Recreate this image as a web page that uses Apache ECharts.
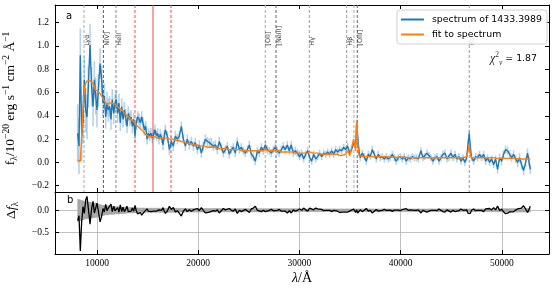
<!DOCTYPE html>
<html><head><meta charset="utf-8">
<script src="https://cdn.jsdelivr.net/npm/echarts@6/dist/echarts.min.js"></script>
<style>html,body{margin:0;padding:0;background:#fff}#c{width:558px;height:291px}</style>
</head><body><div id="c"></div>
<script>
// ---- data ----
const wavelength = [
  8090, 8220, 8350, 8490, 8620, 8750, 8880, 9010, 9140, 9310, 9470, 9610, 9740, 9870, 10000, 10130, 10300, 10460, 10590, 10720,
  10860, 10990, 11120, 11250, 11380, 11510, 11650, 11780, 11910, 12040, 12170, 12300, 12440, 12570, 12700, 12830, 12960, 13090, 13230, 13360,
  13490, 13620, 13750, 13880, 14020, 14150, 14280, 14410, 14540, 14680, 14810, 14940, 15070, 15200, 15330, 15460, 15600, 15730, 15860, 15990,
  16120, 16250, 16390, 16520, 16650,
  16750, 16950, 17150, 17340, 17540, 17740, 17940, 18130, 18330, 18530, 18730, 18920, 19120, 19320, 19520, 19710, 19910, 20110, 20310, 20500,
  20700, 20900, 21100, 21290, 21490, 21690, 21890, 22080, 22280, 22480, 22680, 22870, 23070, 23270, 23470, 23660, 23860, 24060, 24260, 24450,
  24650, 24850, 25050, 25240, 25440, 25640, 25840, 26030, 26230, 26430, 26630, 26820, 27020, 27220, 27420, 27610, 27810, 28010, 28210, 28400,
  28600, 28800, 29000, 29190, 29390, 29590, 29790, 29980,
  30020, 30220, 30410, 30610, 30810, 31010, 31200, 31400, 31600, 31800, 31990, 32190, 32390, 32590, 32780, 32980, 33180, 33380, 33570, 33770,
  33970, 34170, 34360, 34560, 34760, 34960, 35150, 35350, 35550, 35650, 35750, 35880, 36010, 36210, 36400, 36600, 36800, 37000, 37190, 37390,
  37590, 37790, 37980, 38180, 38380, 38580, 38770, 38970, 39170, 39370, 39560, 39760, 39960, 40160, 40350, 40550, 40750, 40950, 41140, 41340,
  41540, 41740,
  42000, 42200, 42390, 42590, 42790, 42990, 43180, 43380, 43580, 43780, 43970, 44170, 44370, 44570, 44760, 44960, 45160, 45360, 45550, 45750,
  45950, 46150, 46340, 46510, 46670, 46770, 46870, 47000, 47200, 47400, 47600, 47790, 47990, 48190, 48390, 48580, 48780, 48980, 49180, 49370,
  49570, 49770, 49970, 50160, 50360, 50560, 50760, 50950, 51150, 51350, 51550, 51740, 51940, 52140, 52340, 52530, 52670, 52800
];
const flux = [
  0.25, 0.14, 0.92, 0.23, 0.37, 0.71, 0.45, 0.39, 0.65, 1.01, 0.65, 0.48, 0.71, 0.57, 0.45, 0.62, 0.85, 0.71, 0.51, 0.57,
  0.39, 0.51, 0.45, 0.48, 0.37, 0.54, 0.42, 0.51, 0.54, 0.42, 0.51, 0.34, 0.48, 0.37, 0.45, 0.39, 0.31, 0.42, 0.37, 0.39,
  0.31, 0.37, 0.23, 0.34, 0.39, 0.37, 0.34, 0.39, 0.34, 0.28, 0.31, 0.20, 0.25, 0.23, 0.25, 0.21, 0.24, 0.28, 0.23, 0.25,
  0.20, 0.24, 0.21, 0.15, 0.23,
  0.28, 0.225, 0.11, 0.18, 0.14, 0.225, 0.20, 0.225, 0.31, 0.20, 0.14, 0.20, 0.15, 0.18, 0.14, 0.17, 0.11, 0.15, 0.08, 0.14,
  0.20, 0.18, 0.17, 0.17, 0.14, 0.15, 0.11, 0.18, 0.13, 0.08, 0.11, 0.14, 0.07, 0.11, 0.13, 0.08, 0.18, 0.11, 0.13, 0.10,
  0.08, 0.11, 0.15, 0.07, 0.05, 0.01, 0.10, 0.08, 0.13, 0.10, 0.15, 0.11, 0.10, 0.08, 0.11, 0.13, 0.10, 0.08, 0.11, 0.14,
  0.11, 0.15, 0.10, 0.15, 0.08, 0.10, 0.08, 0.07,
  0.05, 0.08, 0.03, 0.07, 0.10, 0.04, 0.01, 0.07, 0.03, 0.05, 0.08, 0.05, 0.08, 0.07, 0.09, 0.07, 0.10, 0.07, 0.11, 0.09,
  0.11, 0.10, 0.13, 0.11, 0.14, 0.08, 0.11, 0.17, 0.15, 0.34, 0.22, 0.10, 0.04, 0.08, 0.05, 0.01, 0.07, 0.05, 0.11, 0.07,
  0.03, 0.07, 0.04, 0.05, 0.03, 0.05, 0.03, 0.04, 0.07, 0.04, 0.01, 0.04, 0.05, 0.03, 0.05, 0.01, 0.04, 0.03, 0.05, 0.04,
  0.04, 0.03,
  0.10, 0.04, 0.05, 0.08, 0.06, 0.04, 0.01, 0.04, 0.05, 0.01, 0.04, 0.07, 0.08, 0.03, 0.04, 0.08, 0.04, 0.07, 0.03, 0.05,
  0.01, 0.04, 0.00, 0.04, 0.17, 0.25, 0.14, 0.04, 0.01, 0.05, 0.04, 0.07, 0.04, 0.07, 0.01, 0.04, 0.00, 0.03, -0.02, 0.03,
  -0.06, 0.04, 0.01, 0.07, 0.11, 0.10, 0.07, 0.04, 0.07, 0.03, 0.00, 0.04, -0.02, -0.07, 0.00, 0.08, 0.01, -0.06
];
const fluxErr = [
  0.25, 0.24, 0.23, 0.22, 0.21, 0.20, 0.19, 0.19, 0.18, 0.18, 0.17, 0.17, 0.16, 0.16, 0.15, 0.14, 0.13, 0.12, 0.11, 0.11,
  0.10, 0.10, 0.10, 0.09, 0.09, 0.09, 0.09, 0.08, 0.08, 0.08, 0.08, 0.07, 0.07, 0.07, 0.07, 0.07, 0.06, 0.06, 0.06, 0.06,
  0.06, 0.055, 0.055, 0.055, 0.05, 0.05, 0.05, 0.05, 0.05, 0.05, 0.045, 0.045, 0.045, 0.045, 0.045, 0.045, 0.045, 0.045, 0.045, 0.045,
  0.045, 0.045, 0.045, 0.045, 0.045,
  0.045, 0.045, 0.045, 0.045, 0.045, 0.045, 0.045, 0.045, 0.04, 0.04, 0.04, 0.04, 0.04, 0.04, 0.04, 0.04, 0.04, 0.04, 0.04, 0.04,
  0.04, 0.04, 0.04, 0.04, 0.04, 0.04, 0.04, 0.04, 0.035, 0.035, 0.035, 0.035, 0.035, 0.035, 0.035, 0.035, 0.035, 0.035, 0.035, 0.035,
  0.035, 0.035, 0.035, 0.035, 0.035, 0.035, 0.035, 0.035, 0.035, 0.035, 0.035, 0.035, 0.035, 0.035, 0.035, 0.035, 0.035, 0.035, 0.035, 0.035,
  0.035, 0.035, 0.035, 0.035, 0.035, 0.035, 0.035, 0.035,
  0.03, 0.03, 0.03, 0.03, 0.03, 0.03, 0.03, 0.03, 0.03, 0.03, 0.03, 0.03, 0.03, 0.03, 0.03, 0.03, 0.03, 0.03, 0.03, 0.03,
  0.03, 0.03, 0.03, 0.03, 0.03, 0.03, 0.03, 0.03, 0.03, 0.03, 0.03, 0.03, 0.03, 0.03, 0.03, 0.03, 0.03, 0.03, 0.03, 0.03,
  0.03, 0.03, 0.03, 0.03, 0.03, 0.03, 0.03, 0.03, 0.03, 0.03, 0.03, 0.03, 0.03, 0.03, 0.03, 0.03, 0.03, 0.03, 0.03, 0.03,
  0.03, 0.03,
  0.03, 0.03, 0.03, 0.03, 0.03, 0.03, 0.03, 0.03, 0.03, 0.03, 0.03, 0.03, 0.03, 0.03, 0.03, 0.03, 0.03, 0.03, 0.03, 0.03,
  0.03, 0.03, 0.03, 0.03, 0.03, 0.03, 0.03, 0.03, 0.03, 0.03, 0.03, 0.03, 0.03, 0.03, 0.03, 0.03, 0.03, 0.03, 0.03, 0.03,
  0.035, 0.035, 0.035, 0.035, 0.035, 0.035, 0.035, 0.035, 0.035, 0.035, 0.04, 0.04, 0.04, 0.04, 0.04, 0.04, 0.04, 0.04
];
const fitFlux = [
  0.02, 0.02, 0.01, 0.00, 0.45, 0.64, 0.68, 0.70, 0.70, 0.70, 0.69, 0.68, 0.65, 0.62, 0.61, 0.61, 0.59, 0.58, 0.55, 0.53,
  0.52, 0.50, 0.50, 0.51, 0.51, 0.51, 0.51, 0.50, 0.49, 0.48, 0.47, 0.46, 0.45, 0.44, 0.42, 0.41, 0.40, 0.39, 0.38, 0.37,
  0.36, 0.35, 0.34, 0.33, 0.31, 0.30, 0.29, 0.28, 0.27, 0.25, 0.24, 0.23, 0.23, 0.22, 0.22, 0.22, 0.22, 0.22, 0.21, 0.21,
  0.21, 0.21, 0.21, 0.21, 0.21,
  0.21, 0.21, 0.20, 0.20, 0.20, 0.19, 0.19, 0.18, 0.18, 0.18, 0.17, 0.17, 0.16, 0.16, 0.15, 0.15, 0.15, 0.14, 0.14, 0.14,
  0.14, 0.13, 0.13, 0.13, 0.13, 0.13, 0.12, 0.12, 0.12, 0.12, 0.12, 0.11, 0.11, 0.11, 0.11, 0.11, 0.11, 0.11, 0.10, 0.10,
  0.10, 0.10, 0.10, 0.10, 0.10, 0.10, 0.10, 0.10, 0.10, 0.10, 0.12, 0.10, 0.10, 0.10, 0.10, 0.11, 0.10, 0.10, 0.09, 0.09,
  0.09, 0.09, 0.09, 0.09, 0.09, 0.08, 0.08, 0.08,
  0.08, 0.08, 0.08, 0.08, 0.08, 0.09, 0.08, 0.08, 0.08, 0.08, 0.07, 0.07, 0.07, 0.07, 0.07, 0.07, 0.07, 0.07, 0.07, 0.07,
  0.06, 0.06, 0.06, 0.07, 0.10, 0.06, 0.07, 0.20, 0.10, 0.35, 0.16, 0.06, 0.05, 0.05, 0.05, 0.05, 0.05, 0.05, 0.05, 0.05,
  0.05, 0.05, 0.05, 0.05, 0.05, 0.05, 0.045, 0.045, 0.045, 0.045, 0.045, 0.045, 0.045, 0.045, 0.045, 0.045, 0.04, 0.04, 0.04, 0.04,
  0.04, 0.04,
  0.04, 0.04, 0.04, 0.04, 0.04, 0.04, 0.04, 0.04, 0.04, 0.04, 0.04, 0.04, 0.04, 0.04, 0.04, 0.04, 0.04, 0.04, 0.04, 0.04,
  0.04, 0.04, 0.04, 0.05, 0.10, 0.16, 0.07, 0.04, 0.04, 0.04, 0.04, 0.04, 0.04, 0.04, 0.04, 0.04, 0.04, 0.04, 0.04, 0.04,
  0.035, 0.035, 0.035, 0.035, 0.035, 0.035, 0.035, 0.035, 0.035, 0.035, 0.03, 0.03, 0.03, 0.03, 0.03, 0.03, 0.03, 0.03
];
const lineWaves  = [8716, 10630, 11870, 26620, 27680, 30970, 34660, 35380, 35710, 46770];
const lineLabels = ['Lyα', 'NIV]', 'HeII', '[OII]', '[NeIII]', 'Hγ', 'Hβ', '', '[OIII]', 'Hα'];
const redDashed  = [13750, 17310];
const redSolid   = [15530];
const xTicks = [10000, 20000, 30000, 40000, 50000];
const yTicksTop = [-0.2, 0.0, 0.2, 0.4, 0.6, 0.8, 1.0, 1.2];
const yTicksRes = [-0.5, 0.0];
const specName = 'spectrum of 1433.3989';
const fitName = 'fit to spectrum';
const chi2 = '1.87';

// ---- styles ----
const lineShades = ['#aaa', '#555', '#888', '#aaa', '#666', '#999', '#999', '#aaa', '#666', '#999'];
const RED = '#f04a4a';
const SERIF = 'Liberation Serif';
const SANS = 'DejaVu Sans';

const chart = echarts.init(document.getElementById('c'), null, {renderer: 'canvas'});
const fmt = v => (v < 0 ? '\u2212' : '') + Math.abs(v).toFixed(1);

const residual = wavelength.map((w, i) => [w, +(fitFlux[i] - flux[i]).toFixed(3)]);
const bandSegs = wavelength.slice(0, -1).map((w, i) => [w, fluxErr[i], wavelength[i + 1], fluxErr[i + 1]]);

function xAx(grid, pos, labels, extra) {
  return Object.assign({
    type: 'value', gridIndex: grid, position: pos, min: 5850, max: 54650,
    axisLine: {show: true, onZero: false, lineStyle: {color: '#000', width: 1}},
    axisTick: {show: true, inside: true, length: 4, customValues: xTicks, lineStyle: {color: '#000', width: 1}},
    axisLabel: labels ? {show: true, customValues: xTicks, formatter: v => String(v), fontFamily: SERIF, fontSize: 9.5, color: '#000', margin: 4} : {show: false},
    splitLine: {show: false}
  }, extra || {});
}
function yAx(grid, pos, min, max, ticks, labels, extra) {
  return Object.assign({
    type: 'value', gridIndex: grid, position: pos, min: min, max: max,
    axisLine: {show: true, onZero: false, lineStyle: {color: '#000', width: 1}},
    axisTick: {show: true, inside: true, length: 4, customValues: ticks, lineStyle: {color: '#000', width: 1}},
    axisLabel: labels ? {show: true, customValues: ticks, formatter: fmt, fontFamily: SERIF, fontSize: 9.5, color: '#000', margin: 6} : {show: false},
    splitLine: {show: false}
  }, extra || {});
}
// full-height vertical rule at a wavelength, through the axis scale
function vRule(stroke, dash) {
  return (params, api) => {
    const cs = params.coordSys;
    const x = api.coord([api.value(0), 0])[0];
    return {type: 'line', shape: {x1: x, y1: cs.y, x2: x, y2: cs.y + cs.height},
      style: {stroke: typeof stroke === 'function' ? stroke(params.dataIndex) : stroke, lineWidth: 1, lineDash: dash}};
  };
}

const option = {
  animation: false,
  backgroundColor: '#fff',
  grid: [
    {left: 55, right: 9, top: 5, height: 187, outerBoundsMode: 'none', containLabel: false},
    {left: 55, right: 9, top: 192, height: 62, outerBoundsMode: 'none', containLabel: false}
  ],
  xAxis: [
    xAx(0, 'bottom', false),
    xAx(0, 'top', false),
    xAx(1, 'bottom', true, {
      splitLine: {show: true, lineStyle: {color: '#b0b0b0', width: 0.8}},
      name: '{i|λ}{r|/Å}', nameLocation: 'middle', nameGap: 17,
      nameTextStyle: {rich: {i: {fontFamily: SERIF, fontStyle: 'italic', fontSize: 14, color: '#000'}, r: {fontFamily: SERIF, fontSize: 14, color: '#000'}}}
    })
  ],
  yAxis: [
    yAx(0, 'left', -0.254, 1.352, yTicksTop, true, {
      name: '{m|f}{s|λ}{m|/10}{p|\u221220}{m| erg s}{p|\u22121}{m| cm}{p|\u22122}{m| Å}{p|\u22121}',
      nameLocation: 'middle', nameGap: 36, nameRotate: 90,
      nameTextStyle: {rich: {
        m: {fontFamily: SERIF, fontSize: 13.5, color: '#000', lineHeight: 18, verticalAlign: 'middle'},
        s: {fontFamily: SERIF, fontSize: 9.5, color: '#000', lineHeight: 18, verticalAlign: 'bottom'},
        p: {fontFamily: SERIF, fontSize: 9.5, color: '#000', lineHeight: 18, verticalAlign: 'top'}
      }}
    }),
    yAx(0, 'right', -0.254, 1.352, yTicksTop, false),
    yAx(1, 'left', -0.975, 0.408, yTicksRes, true, {
      splitLine: {show: true, lineStyle: {color: '#b0b0b0', width: 0.8}},
      name: '{r|Δ}{i|f}{s|λ}', nameLocation: 'middle', nameGap: 20, nameRotate: 90,
      nameTextStyle: {padding: [0, 0, 0, 25], rich: {
        r: {fontFamily: SERIF, fontSize: 13.5, color: '#000', lineHeight: 18, verticalAlign: 'middle'},
        i: {fontFamily: SERIF, fontStyle: 'italic', fontSize: 13.5, color: '#000', lineHeight: 18, verticalAlign: 'middle'},
        s: {fontFamily: SERIF, fontSize: 9.5, color: '#000', lineHeight: 18, verticalAlign: 'bottom'}
      }}
    }),
    yAx(1, 'right', -0.975, 0.408, yTicksRes, false)
  ],
  legend: {
    data: [specName, fitName], orient: 'vertical', right: 11, top: 10,
    icon: 'rect', itemWidth: 23, itemHeight: 2, itemGap: 4,
    padding: [4, 5, 4, 4],
    backgroundColor: 'rgba(255,255,255,0.85)', borderColor: '#d0d0d0', borderWidth: 1, borderRadius: 3,
    textStyle: {fontFamily: SANS, fontSize: 9.4, color: '#000', lineHeight: 11, padding: [0, 0, 0, 3]}
  },
  title: [
    {text: 'a', left: 66, top: 11, padding: 0, textStyle: {fontFamily: SANS, fontSize: 10, fontWeight: 'normal', color: '#000'}},
    {text: 'b', left: 67, top: 195, padding: 0, textStyle: {fontFamily: SANS, fontSize: 10, fontWeight: 'normal', color: '#000'}},
    {text: '{c|χ}{p|2}{u|ν}{n| = ' + chi2 + '}', right: 21, top: 51, padding: 0, textStyle: {fontWeight: 'normal', rich: {
      c: {fontFamily: SERIF, fontStyle: 'italic', fontWeight: 'normal', fontSize: 12, color: '#333', lineHeight: 16, verticalAlign: 'middle'},
      p: {fontFamily: SERIF, fontWeight: 'normal', fontSize: 7.5, color: '#333', lineHeight: 16, verticalAlign: 'top'},
      u: {fontFamily: SERIF, fontStyle: 'italic', fontWeight: 'normal', fontSize: 7.5, color: '#333', lineHeight: 16, verticalAlign: 'bottom'},
      n: {fontFamily: SANS, fontWeight: 'normal', fontSize: 9.4, color: '#000', lineHeight: 16, verticalAlign: 'middle'}
    }}}
  ],
  series: [
    {
      name: 'emission lines', type: 'custom', xAxisIndex: 0, yAxisIndex: 0, z: 1, silent: true, clip: false,
      data: lineWaves.map(w => [w]), encode: {x: 0},
      renderItem: vRule(i => lineShades[i], [3, 2])
    },
    {
      name: 'red dashed', type: 'custom', xAxisIndex: 0, yAxisIndex: 0, z: 1, silent: true, clip: false,
      data: redDashed.map(w => [w]), encode: {x: 0},
      renderItem: vRule(RED, [3, 2])
    },
    {
      name: 'red solid', type: 'custom', xAxisIndex: 0, yAxisIndex: 0, z: 1, silent: true, clip: false,
      data: redSolid.map(w => [w]), encode: {x: 0},
      renderItem: vRule(RED, null)
    },
    {
      name: 'line labels', type: 'scatter', xAxisIndex: 0, yAxisIndex: 0, z: 2,
      symbolSize: 0, silent: true,
      data: lineWaves.map((w, i) => ({value: [w, 0.99], name: lineLabels[i]})),
      label: {show: true, formatter: '{b}', rotate: 90, position: 'inside', align: 'left', verticalAlign: 'top',
        offset: [1.5, 0], fontFamily: SANS, fontSize: 6.5, color: '#111'}
    },
    {
      name: 'err', type: 'custom', xAxisIndex: 0, yAxisIndex: 0, z: 2, silent: true,
      data: wavelength.map((w, i) => [w, flux[i] - fluxErr[i], flux[i] + fluxErr[i]]),
      encode: {x: 0, y: [1, 2]},
      renderItem: (params, api) => {
        const a = api.coord([api.value(0), api.value(1)]);
        const b = api.coord([api.value(0), api.value(2)]);
        return {type: 'line', shape: {x1: a[0], y1: a[1], x2: b[0], y2: b[1]},
          style: {stroke: 'rgba(31,119,180,0.33)', lineWidth: 1.6}};
      }
    },
    {
      name: specName, type: 'line', xAxisIndex: 0, yAxisIndex: 0, z: 3,
      data: wavelength.map((w, i) => [w, flux[i]]),
      showSymbol: false, symbol: 'none', color: '#1f77b4', lineStyle: {width: 1.4, color: '#1f77b4'}
    },
    {
      name: fitName, type: 'line', xAxisIndex: 0, yAxisIndex: 0, z: 4,
      data: wavelength.map((w, i) => [w, fitFlux[i]]),
      showSymbol: false, symbol: 'none', color: '#ff7f0e', lineStyle: {width: 1.4, color: '#ff7f0e'}
    },
    {
      name: 'band', type: 'custom', xAxisIndex: 2, yAxisIndex: 2, z: 2, silent: true,
      data: bandSegs, encode: {x: [0, 2], y: [1, 3]},
      renderItem: (params, api) => {
        const x0 = api.value(0), e0 = api.value(1), x1 = api.value(2), e1 = api.value(3);
        const pts = [api.coord([x0, -e0]), api.coord([x1, -e1]), api.coord([x1, e1]), api.coord([x0, e0])];
        return {type: 'polygon', shape: {points: pts}, style: {fill: '#a6a6a6', stroke: '#a6a6a6', lineWidth: 0.5}};
      }
    },
    {
      name: 'residual', type: 'line', xAxisIndex: 2, yAxisIndex: 2, z: 5,
      data: residual, showSymbol: false, symbol: 'none', lineStyle: {width: 1.3, color: '#000'}
    }
  ]
};
chart.setOption(option);
</script>
</body></html>
